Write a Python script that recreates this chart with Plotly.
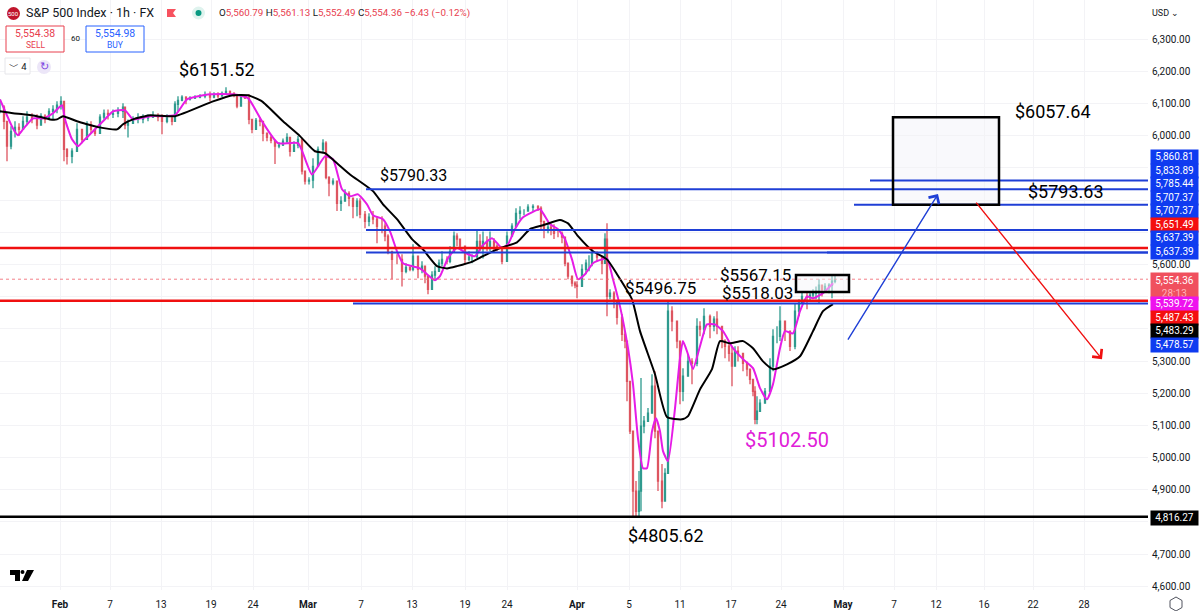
import plotly.graph_objects as go

PLOT_W = 1148
PLOT_H = 590

# chart slot of each traced bar (1 slot = 1 screen column of the time scale)
BAR_X = [0,4,7,11,15,19,23,27,32,37,
         41,45,49,53,57,61,64,67,72,77,
         82,87,91,95,100,104,108,113,118,123,
         125,128,133,138,143,148,153,158,162,167,
         172,175,178,182,186,190,195,200,205,210,
         214,218,222,226,230,234,237,241,245,249,
         252,256,260,263,267,271,275,279,283,287,
         290,294,298,302,305,309,313,318,323,326,
         329,333,337,341,345,349,353,357,360,365,
         369,373,377,382,385,388,392,397,402,406,
         410,413,418,422,425,428,432,435,439,442,
         447,450,454,457,460,465,469,472,477,480,
         483,487,490,494,497,502,507,512,516,520,
         524,528,533,538,541,544,548,551,554,558,
         562,565,568,572,575,577,582,586,589,592,
         597,602,605,607,610,614,617,622,625,627,
         630,633,636,639,641,644,648,652,655,658,
         662,665,668,672,677,680,683,688,692,697,
         700,704,710,714,717,722,725,729,732,735,
         738,743,747,750,753,755,757,760,765,770,
         773,777,780,785,790,795,799,802,807,810,
         813,816,819,822,825,829,832,835]
BAR_HIGH = [6113,6095,6045,6030,6045,6039,6061,6076,6070,6067,
            6070,6067,6086,6095,6107,6123,6107,5961,5961,6039,
            6020,6045,6045,6023,6067,6082,6082,6082,6089,6101,
            6089,6051,6061,6070,6067,6067,6076,6070,6067,6067,
            6064,6107,6123,6126,6123,6123,6126,6129,6138,6138,
            6135,6135,6138,6151,6141,6135,6129,6129,6123,6129,
            6051,6055,6058,6039,6008,6002,5983,5980,5992,6008,
            5983,5983,5999,5989,5890,5871,5930,5967,5989,5983,
            5874,5868,5859,5812,5834,5828,5797,5806,5806,5766,
            5759,5766,5750,5750,5728,5694,5632,5632,5632,5604,
            5595,5663,5619,5610,5595,5554,5579,5595,5616,5641,
            5626,5657,5703,5697,5672,5657,5641,5632,5710,5694,
            5703,5688,5703,5682,5663,5651,5703,5728,5775,5781,
            5772,5787,5787,5784,5781,5734,5728,5728,5725,5710,
            5703,5679,5604,5554,5548,5548,5601,5616,5629,5647,
            5641,5616,5697,5728,5523,5517,5480,5446,5393,5362,
            5237,5082,4927,4958,5247,5129,5154,5259,5268,5082,
            4980,4967,5486,5470,5424,5362,5278,5321,5309,5433,
            5424,5464,5445,5439,5455,5408,5368,5362,5346,5346,
            5346,5321,5299,5268,5243,5222,5191,5181,5216,5309,
            5399,5408,5470,5408,5393,5480,5492,5517,5517,5517,
            5523,5532,5554,5536,5542,5542,5570,5564]
BAR_LOW = [6070,6020,5921,5958,5995,5999,6020,6033,6039,6020,
           6039,6039,6051,6051,6070,6082,5921,5911,5915,5974,
           5977,6014,6008,5999,6023,6051,6051,6055,6058,6055,
           6020,5995,6042,6039,6039,6045,6055,6045,6005,6039,
           6033,6058,6076,6107,6098,6110,6114,6117,6117,6107,
           6117,6117,6123,6129,6126,6120,6086,6098,6114,6036,
           6008,6036,6030,5983,5983,5977,5912,5961,5968,5977,
           5936,5952,5961,5880,5849,5849,5837,5905,5946,5865,
           5812,5846,5766,5766,5797,5781,5744,5750,5744,5713,
           5719,5725,5666,5697,5672,5632,5554,5601,5532,5573,
           5579,5579,5557,5573,5542,5508,5542,5554,5579,5595,
           5601,5604,5657,5657,5647,5601,5610,5604,5626,5641,
           5619,5641,5641,5641,5641,5601,5632,5697,5725,5741,
           5753,5766,5766,5766,5710,5682,5697,5691,5679,5685,
           5666,5595,5554,5532,5526,5495,5542,5570,5579,5595,
           5610,5570,5620,5439,5492,5464,5414,5362,5340,5175,
           5073,4812,4812,4818,4833,5076,5113,5144,5060,4896,
           4843,4874,4958,5393,5340,5166,5175,5262,5228,5284,
           5377,5383,5371,5393,5383,5340,5309,5299,5222,5284,
           5299,5268,5253,5228,5191,5104,5104,5150,5185,5206,
           5268,5355,5362,5362,5331,5337,5439,5480,5461,5486,
           5495,5492,5480,5501,5517,5511,5495,5542]
BAR_CLOSE = [6089,6045,5968,6014,6026,6020,6045,6058,6051,6033,
             6061,6051,6076,6082,6095,6107,5958,5936,5952,6020,
             5989,6033,6020,6008,6058,6070,6067,6070,6076,6089,
             6033,6039,6051,6051,6055,6058,6061,6058,6045,6055,
             6045,6098,6110,6120,6114,6117,6120,6123,6126,6120,
             6126,6123,6132,6138,6132,6126,6092,6120,6117,6051,
             6020,6048,6045,6008,5995,5986,5968,5971,5983,5995,
             5952,5971,5989,5890,5859,5862,5905,5958,5977,5871,
             5853,5859,5790,5797,5821,5806,5781,5797,5756,5734,
             5747,5741,5719,5719,5688,5641,5616,5616,5579,5591,
             5585,5626,5585,5595,5564,5523,5567,5579,5604,5616,
             5610,5641,5688,5679,5657,5616,5623,5623,5672,5657,
             5672,5657,5672,5657,5647,5610,5688,5719,5759,5766,
             5766,5778,5781,5775,5734,5710,5716,5710,5697,5697,
             5685,5604,5564,5542,5536,5532,5585,5604,5604,5635,
             5623,5604,5679,5501,5511,5486,5436,5383,5362,5237,
             5082,4896,4833,4896,5098,5113,5138,5222,5082,4927,
             4865,4951,5455,5424,5362,5206,5253,5299,5293,5408,
             5399,5439,5408,5430,5408,5362,5346,5324,5284,5331,
             5324,5293,5275,5243,5206,5119,5144,5169,5206,5284,
             5377,5377,5424,5393,5346,5455,5480,5501,5498,5505,
             5511,5517,5536,5523,5532,5536,5548,5554]
BAR_OPEN = BAR_CLOSE[:1] + BAR_CLOSE[:-1]

FAST_X = [0,13,18,23,33,43,53,62,65,72,78,83,93,103,113,125,133,150,175,187,
          210,233,248,262,278,298,312,325,333,342,350,358,367,373,383,390,397,403,412,420,
          427,435,440,448,457,468,475,482,492,502,508,515,522,532,540,550,558,565,572,578,
          585,593,602,607,613,620,628,633,638,643,647,652,656,660,663,668,675,680,683,688,
          693,700,707,715,723,733,743,753,760,767,773,780,785,793,800,807,813,823,833]
FAST_MA = [6113,6023,6002,6020,6054,6054,6070,6095,6051,5989,5968,5983,6014,6045,6076,6079,6051,6061,6064,6113,
           6129,6129,6117,6045,5977,5977,5880,5936,5927,5834,5812,5818,5787,5753,5741,5703,5641,5604,5595,5588,
           5570,5551,5564,5620,5651,5632,5626,5657,5682,5651,5663,5710,5744,5762,5772,5725,5710,5679,5616,5554,
           5570,5604,5616,5619,5554,5470,5340,5228,5060,4967,4967,5082,5122,5082,5020,4989,5153,5309,5362,5321,
           5275,5346,5414,5414,5393,5340,5306,5278,5216,5181,5228,5340,5393,5386,5455,5501,5495,5511,5542]
SLOW_X = [0,13,23,37,50,57,63,77,87,98,117,123,133,150,175,213,233,248,262,283,
          300,315,325,337,350,373,383,397,412,423,437,447,457,473,483,500,517,530,543,560,
          568,578,593,607,617,632,640,655,667,682,688,700,712,720,730,743,753,763,773,787,
          800,813,823,833]
SLOW_MA = [6076,6070,6067,6061,6051,6051,6061,6045,6036,6027,6020,6036,6051,6064,6061,6107,6126,6126,6107,6045,
           5999,5952,5946,5915,5880,5828,5787,5741,5679,5647,5595,5588,5595,5610,5626,5651,5669,5710,5722,5738,
           5728,5688,5641,5616,5570,5492,5393,5259,5126,5119,5129,5212,5275,5362,5355,5362,5340,5299,5275,5290,
           5315,5393,5455,5477]

BLUE_LEVELS = [5860.81, 5833.89, 5785.44, 5707.37, 5707.37, 5637.39, 5637.39, 5478.57]
BLUE_STARTS = [870, 366, 854, 366, 850, 366, 827, 353]
RED_LEVELS = [5651.49, 5487.43]
FLOOR_LEVEL = 4816.27
LAST_PRICE = 5554.36

TOP_BOX = [893, 999, 5785.44, 6057.64]
SMALL_BOX = [796, 849, 5515.0, 5567.15]
UP_ARROW = [847, 5362, 938, 5819]
DOWN_ARROW = [975, 5797, 1102, 5306]

Y_TICKS = [6300, 6200, 6100, 6000, 5900, 5800, 5700, 5600, 5500, 5400, 5300, 5200, 5100, 5000, 4900, 4800, 4700, 4600]
# the scale labels that the price tags sit on top of are left blank
Y_LABELS = ['6,300.00', '6,200.00', '6,100.00', '6,000.00', '', '', '', '5,600.00', '', '', '5,300.00', '5,200.00',
            '5,100.00', '5,000.00', '4,900.00', '', '4,700.00', '4,600.00']
X_TICKS = [60, 110, 161, 211, 253, 308, 361, 412, 465, 507, 577, 629, 680, 731, 781, 843, 894, 936, 984, 1033, 1084]
X_LABELS = ['<b>Feb</b>', '7', '13', '19', '24', '<b>Mar</b>', '7', '13', '19', '24', '<b>Apr</b>', '5', '11', '17', '24',
            '<b>May</b>', '7', '12', '16', '22', '28']

# price tags stacked on the right scale, top to bottom
TAG_TEXT = ['5,860.81', '5,833.89', '5,785.44', '5,707.37', '5,707.37', '5,651.49', '5,637.39', '5,637.39']
TAG_COLOR = ['#0f3bf0', '#0f3bf0', '#0f3bf0', '#0f3bf0', '#0f3bf0', '#f40f0f', '#0f3bf0', '#0f3bf0']
LOW_TAG_TEXT = ['5,539.72', '5,487.43', '5,483.29', '5,478.57']
LOW_TAG_COLOR = ['#ee12ee', '#f40f0f', '#000000', '#0f3bf0']

FONT = 'Roboto'
INK = '#131722'


def px(x):
    return x / PLOT_W


def py(y):
    return 1 - y / PLOT_H


fig = go.Figure()

fig.add_trace(go.Candlestick(
    x=BAR_X, open=BAR_OPEN, high=BAR_HIGH, low=BAR_LOW, close=BAR_CLOSE,
    increasing=dict(line=dict(color='#2f9a8e', width=1.3), fillcolor='#2f9a8e'),
    decreasing=dict(line=dict(color='#dd5560', width=1.3), fillcolor='#dd5560'),
    whiskerwidth=0, showlegend=False))

fig.add_trace(go.Scatter(x=FAST_X, y=FAST_MA, mode='lines', showlegend=False,
                         line=dict(color='#e61ce6', width=2, shape='spline', smoothing=0.5)))
fig.add_trace(go.Scatter(x=SLOW_X, y=SLOW_MA, mode='lines', showlegend=False,
                         line=dict(color='#000000', width=2, shape='spline', smoothing=0.5)))

for value, start in zip(BLUE_LEVELS, BLUE_STARTS):
    fig.add_trace(go.Scatter(x=[start, PLOT_W], y=[value, value], mode='lines', showlegend=False,
                             line=dict(color='#1f3fd6', width=2)))
for value in RED_LEVELS:
    fig.add_trace(go.Scatter(x=[0, PLOT_W], y=[value, value], mode='lines', showlegend=False,
                             line=dict(color='#f01010', width=2.5)))
fig.add_trace(go.Scatter(x=[0, PLOT_W], y=[FLOOR_LEVEL, FLOOR_LEVEL], mode='lines', showlegend=False,
                         line=dict(color='#000000', width=2.5)))
fig.add_trace(go.Scatter(x=[0, PLOT_W], y=[LAST_PRICE, LAST_PRICE], mode='lines', showlegend=False,
                         line=dict(color='#f0606a', width=0.8, dash='dot')))

# drawn boxes, the big one's fill stays under the grid and its border over it
fig.add_shape(type='rect', x0=TOP_BOX[0], x1=TOP_BOX[1], y0=TOP_BOX[2], y1=TOP_BOX[3],
              line_width=0, fillcolor='#f9f9fc', layer='below')
fig.add_shape(type='rect', x0=TOP_BOX[0], x1=TOP_BOX[1], y0=TOP_BOX[2], y1=TOP_BOX[3],
              line=dict(color='#000000', width=2.5), fillcolor='rgba(0,0,0,0)')
fig.add_shape(type='rect', x0=SMALL_BOX[0], x1=SMALL_BOX[1], y0=SMALL_BOX[2], y1=SMALL_BOX[3],
              line=dict(color='#000000', width=2.5), fillcolor='rgba(245,245,250,0.5)')

for arrow, color in [(UP_ARROW, '#1f3fd6'), (DOWN_ARROW, '#f01010')]:
    fig.add_annotation(x=arrow[2], y=arrow[3], ax=arrow[0], ay=arrow[1], xref='x', yref='y', axref='x', ayref='y',
                       text='', showarrow=True, arrowhead=4, arrowsize=1.7, arrowwidth=1.4, arrowcolor=color)


def label(x, y, text, size=18, color='#000000', anchor='center', **kw):
    fig.add_annotation(x=px(x), y=py(y), xref='paper', yref='paper', text=text, showarrow=False,
                       xanchor=anchor, yanchor='middle', font=dict(family=FONT, size=size, color=color), **kw)


# price call-outs drawn on the chart
label(217, 69, '$6151.52')
label(413, 175, '$5790.33', size=16)
label(1053, 111, '$6057.64')
label(1066, 191, '$5793.63')
label(755, 274.5, '$5567.15', size=17)
label(757, 292.5, '$5518.03', size=17)
label(660, 287.5, '$5496.75', size=17)
label(787, 440, '$5102.50', size=20, color='#e020d8')
label(666, 535.5, '$4805.62')


def tag(y, text, color):
    fig.add_annotation(x=px(1150), y=py(y), xref='paper', yref='paper', text=text, showarrow=False,
                       xanchor='left', yanchor='middle', width=47, height=13.6, bgcolor=color, borderpad=0,
                       font=dict(family=FONT, size=10, color='#ffffff'))


for i, (text, color) in enumerate(zip(TAG_TEXT, TAG_COLOR)):
    tag(157 + i * 13.55, text, color)
fig.add_annotation(x=px(1150), y=py(286), xref='paper', yref='paper', showarrow=False, xanchor='left', yanchor='middle',
                   text='5,554.36<br><span style="color:#ffb3ba">28:13</span>', width=47, height=27, bgcolor='#f0505e',
                   borderpad=0, font=dict(family=FONT, size=10, color='#ffffff'))
for i, (text, color) in enumerate(zip(LOW_TAG_TEXT, LOW_TAG_COLOR)):
    tag(304 + i * 13.55, text, color)
tag(517.5, '4,816.27', '#000000')

# header
fig.add_shape(type='circle', xref='paper', yref='paper', x0=px(7), x1=px(20), y0=py(20), y1=py(7),
              fillcolor='#c0152c', line_width=0)
label(13.5, 13.5, '500', size=6, color='#ffffff')
label(24, 13, 'S&amp;P 500 Index · 1h · FX', size=12.5, color=INK, anchor='left')
fig.add_shape(type='path', xref='paper', yref='paper', fillcolor='#f7525f', line_width=0,
              path=f'M {px(167)} {py(9)} L {px(176)} {py(9)} L {px(173)} {py(13)} L {px(176)} {py(17)} L {px(167)} {py(17)} Z')
fig.add_shape(type='circle', xref='paper', yref='paper', x0=px(192), x1=px(205), y0=py(19.5), y1=py(6.5),
              fillcolor='#dff3ee', line_width=0)
fig.add_shape(type='circle', xref='paper', yref='paper', x0=px(195.5), x1=px(201.5), y0=py(16), y1=py(10),
              fillcolor='#089981', line_width=0)
RED = '#e8404e'
label(217, 13, f'O<span style="color:{RED}">5,560.79</span> H<span style="color:{RED}">5,561.13</span> '
               f'L<span style="color:{RED}">5,552.49</span> C<span style="color:{RED}">5,554.36 −6.43 (−0.12%)</span>',
      size=9.8, color=INK, anchor='left')

# buy and sell buttons
for x0, x1, color, price, side in [(6, 64, '#e8404e', '5,554.38', 'SELL'), (86, 144, '#2962ff', '5,554.98', 'BUY')]:
    fig.add_shape(type='rect', xref='paper', yref='paper', x0=px(x0), x1=px(x1), y0=py(52), y1=py(26),
                  line=dict(color=color, width=1), fillcolor='#ffffff')
    label((x0 + x1) / 2, 33.5, price, size=10.5, color=color)
    label((x0 + x1) / 2, 45, side, size=8.5, color=color)
label(75, 39, '60', size=8, color=INK)
fig.add_shape(type='rect', xref='paper', yref='paper', x0=px(5), x1=px(30), y0=py(74), y1=py(58),
              line=dict(color='#e6e6ea', width=1), fillcolor='#ffffff')
label(18, 66, '﹀ 4', size=9.5, color=INK)
fig.add_shape(type='circle', xref='paper', yref='paper', x0=px(37), x1=px(51), y0=py(74), y1=py(60),
              fillcolor='#ece6f8', line_width=0)
label(44, 67, '↻', size=11, color='#7b3fe0')

label(1165, 13, 'USD ⌄', size=9, color=INK)

# logo and settings icon
fig.add_shape(type='path', xref='paper', yref='paper', fillcolor='#000000', line_width=0,
              path=f'M {px(10)} {py(570)} L {px(20)} {py(570)} L {px(20)} {py(581)} L {px(15)} {py(581)} '
                   f'L {px(15)} {py(575)} L {px(10)} {py(575)} Z')
fig.add_shape(type='path', xref='paper', yref='paper', fillcolor='#000000', line_width=0,
              path=f'M {px(27)} {py(570)} L {px(34)} {py(570)} L {px(28)} {py(581)} L {px(22)} {py(581)} Z')
fig.add_shape(type='circle', xref='paper', yref='paper', x0=px(20.5), x1=px(24.5), y0=py(574), y1=py(570),
              fillcolor='#000000', line_width=0)
fig.add_shape(type='path', xref='paper', yref='paper', line=dict(color='#50535e', width=1),
              path=f'M {px(1176)} {py(597)} L {px(1182)} {py(600.5)} L {px(1182)} {py(607.5)} L {px(1176)} {py(611)} '
                   f'L {px(1170)} {py(607.5)} L {px(1170)} {py(600.5)} Z')

fig.update_layout(
    width=1200, height=611, margin=dict(l=0, r=52, t=0, b=21), autosize=False,
    paper_bgcolor='#ffffff', plot_bgcolor='#ffffff', showlegend=False,
    xaxis=dict(range=[0, PLOT_W], tickmode='array', tickvals=X_TICKS, ticktext=X_LABELS, ticks='',
               showgrid=True, gridcolor='#f3f3f6', gridwidth=1, zeroline=False, showline=False,
               ticklabelstandoff=7, rangeslider=dict(visible=False), tickfont=dict(family=FONT, size=10, color=INK)),
    yaxis=dict(side='right', range=[4588.6, 6422], tickmode='array', tickvals=Y_TICKS, ticktext=Y_LABELS, ticks='',
               showgrid=True, gridcolor='#f3f3f6', gridwidth=1, zeroline=False, showline=False,
               ticklabelstandoff=3, tickfont=dict(family=FONT, size=10, color=INK)),
)

# the page's default body margin would push the chart 8px in
fig.write_html("out.html", config=dict(displayModeBar=False), post_script="document.body.style.margin='0';")
